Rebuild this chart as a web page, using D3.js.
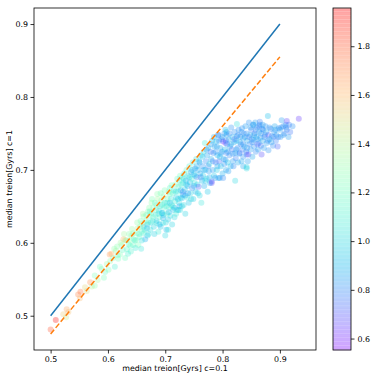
<!DOCTYPE html>
<html>
<head>
<meta charset="utf-8">
<script src="https://cdn.jsdelivr.net/npm/d3@7"></script>
<style>
	body { margin: 0; background: #fff; }
	svg text { font-family: "DejaVu Sans", sans-serif; font-size: 7.9px; fill: #000; }
</style>
</head>
<body>
<div id="chart"></div>
<script>
// scatter of median treion, c=0.1 against c=1, coloured by a third value

// [median treion c=0.1, median treion c=1, colour value]
const pointsLow = [
	[0.500,0.481,1.82],[0.509,0.494,1.95],[0.522,0.502,1.55],[0.527,0.498,1.45],[0.528,0.509,1.65],[0.531,0.505,1.58],
	[0.548,0.529,1.72],[0.551,0.524,1.60],[0.552,0.533,1.75],[0.560,0.539,1.52],[0.563,0.534,1.48],[0.569,0.546,1.70],
	[0.572,0.540,1.40],[0.577,0.541,1.30],[0.577,0.555,1.25],[0.582,0.549,1.35],[0.586,0.567,1.20],[0.589,0.564,1.28],
	[0.593,0.552,1.22],[0.595,0.560,1.18],[0.598,0.571,1.32]
];

const pointsMid = [
	[0.601,0.563,1.24],[0.603,0.584,1.68],[0.606,0.585,1.62],[0.604,0.575,1.30],[0.609,0.579,1.26],[0.612,0.567,1.10],
	[0.614,0.589,1.35],[0.616,0.595,1.28],[0.618,0.578,1.22],[0.621,0.584,1.25],[0.624,0.597,1.30],[0.627,0.605,1.60],
	[0.630,0.604,1.50],[0.630,0.579,1.20],[0.633,0.591,1.15],[0.636,0.598,1.18],[0.638,0.604,1.27],[0.640,0.588,1.12],
	[0.641,0.610,1.33],[0.644,0.597,1.20],[0.644,0.613,1.30],[0.647,0.603,1.08],[0.649,0.604,1.24],[0.650,0.613,1.26],
	[0.652,0.620,1.38],[0.653,0.597,1.22],[0.655,0.608,1.15],[0.656,0.622,1.30],[0.658,0.592,1.05],[0.659,0.615,1.19],
	[0.660,0.626,1.42],
	[0.662,0.613,1.10],[0.662,0.636,1.28],[0.662,0.622,1.00],[0.665,0.605,0.88],[0.666,0.630,1.22],[0.668,0.620,0.92],
	[0.669,0.625,0.95],[0.670,0.628,1.15],[0.670,0.643,1.25],[0.671,0.612,1.05],[0.673,0.636,1.20],[0.673,0.643,1.12],
	[0.674,0.618,1.02],[0.676,0.641,1.18],[0.676,0.655,1.30],[0.678,0.630,1.08],[0.679,0.648,1.22],[0.680,0.622,0.98],
	[0.682,0.655,1.15],[0.683,0.638,1.10],[0.685,0.627,1.05],[0.685,0.652,1.20],[0.685,0.630,0.95],[0.687,0.660,1.35],
	[0.688,0.615,1.08],[0.689,0.644,1.00],[0.690,0.635,1.14],[0.691,0.650,1.10],[0.692,0.622,0.94],[0.693,0.658,1.26],
	[0.694,0.641,0.90],[0.695,0.641,0.98],[0.696,0.627,1.02],[0.696,0.634,0.88],[0.697,0.664,1.30],[0.698,0.648,1.12],
	[0.699,0.655,1.06],[0.700,0.610,1.00],[0.702,0.650,1.08],[0.702,0.618,0.90],[0.703,0.640,1.16],[0.704,0.660,1.20],
	[0.705,0.618,1.04],[0.705,0.632,0.96],[0.706,0.670,1.28],[0.707,0.648,1.10],[0.708,0.655,0.92],[0.708,0.667,1.18],
	[0.709,0.637,1.02],[0.710,0.660,1.05],[0.711,0.679,1.22],[0.712,0.625,0.98],[0.713,0.650,1.14],[0.714,0.645,0.94],
	[0.715,0.672,1.10],[0.716,0.635,1.00],[0.717,0.657,1.08],[0.718,0.680,1.24],[0.719,0.662,0.96],[0.720,0.645,1.04],
	[0.611,0.592,1.30],[0.617,0.583,1.18],[0.622,0.600,1.34],[0.626,0.590,1.16],[0.628,0.612,1.36],[0.632,0.603,1.22],
	[0.635,0.585,1.10],[0.637,0.612,1.28],[0.639,0.596,1.14],[0.642,0.619,1.32],[0.645,0.605,1.16],[0.648,0.593,1.06],
	[0.651,0.628,1.30],[0.654,0.612,1.12],[0.657,0.630,1.24],[0.659,0.603,1.02],[0.661,0.640,1.34],[0.664,0.618,1.08],
	[0.667,0.638,1.20],[0.669,0.610,0.96],[0.672,0.648,1.28],[0.675,0.628,1.04],[0.677,0.660,1.24],[0.679,0.635,1.12],
	[0.681,0.612,0.98],[0.684,0.645,1.16],[0.686,0.667,1.30],[0.688,0.640,1.04],[0.690,0.625,0.92],[0.692,0.668,1.22],
	[0.694,0.652,1.08],[0.697,0.638,0.96],[0.699,0.672,1.24],[0.701,0.628,1.00],[0.703,0.655,1.06],[0.706,0.642,0.90],
	[0.708,0.675,1.16],[0.711,0.652,1.00],[0.713,0.668,1.12],[0.716,0.648,0.92],[0.718,0.670,1.02],[0.719,0.640,1.06]
];

const pointsUpper = [
	[0.721,0.688,1.18],[0.722,0.670,1.06],[0.723,0.677,1.12],[0.723,0.645,0.92],[0.724,0.655,1.00],[0.725,0.650,0.86],
	[0.726,0.645,1.02],[0.726,0.692,1.20],[0.727,0.662,0.98],[0.728,0.680,1.08],[0.729,0.661,0.94],[0.730,0.690,1.14],
	[0.731,0.682,1.04],[0.731,0.670,0.72],[0.731,0.666,0.85],[0.732,0.652,1.00],[0.733,0.695,1.10],[0.734,0.673,0.96],
	[0.735,0.640,0.98],[0.736,0.685,0.90],[0.737,0.700,1.16],[0.738,0.662,1.05],[0.739,0.678,0.88],[0.740,0.692,1.02],
	[0.741,0.655,0.94],[0.742,0.705,1.12],[0.743,0.683,0.92],[0.744,0.668,1.00],[0.745,0.697,0.86],[0.746,0.688,1.08],
	[0.747,0.675,0.80],[0.748,0.710,1.06],[0.749,0.660,0.96],[0.750,0.694,0.90],[0.751,0.682,1.02],[0.752,0.702,0.84],
	[0.753,0.670,0.92],[0.754,0.715,1.04],[0.755,0.690,0.78],[0.756,0.680,0.98],[0.757,0.700,0.88],[0.758,0.677,0.70],
	[0.759,0.712,0.94],[0.760,0.665,1.00],[0.761,0.695,0.86],[0.762,0.720,1.02],[0.763,0.655,1.05],[0.764,0.685,0.90],
	[0.765,0.705,0.82],[0.766,0.692,0.96],[0.767,0.725,1.00],[0.768,0.678,0.88],[0.769,0.737,1.08],[0.770,0.700,0.92],
	[0.771,0.712,0.80],[0.772,0.688,0.98],[0.773,0.720,0.86],[0.774,0.670,0.94],[0.775,0.730,0.90],[0.776,0.698,0.84],
	[0.777,0.708,1.00],[0.778,0.682,0.90],[0.779,0.725,0.76],
	[0.780,0.715,0.88],[0.781,0.682,0.66],[0.781,0.684,0.70],[0.782,0.740,0.92],[0.783,0.700,0.84],[0.784,0.723,0.80],
	[0.785,0.692,0.94],[0.786,0.732,0.86],[0.787,0.689,0.82],[0.788,0.710,0.78],[0.789,0.739,0.90],[0.790,0.732,0.84],
	[0.790,0.700,0.96],[0.791,0.720,0.88],[0.792,0.748,0.82],[0.793,0.689,0.86],[0.793,0.748,0.80],[0.794,0.712,0.74],
	[0.795,0.718,0.90],[0.795,0.689,0.84],[0.796,0.730,0.86],[0.797,0.705,0.92],[0.798,0.742,0.78],[0.799,0.725,0.84],
	[0.800,0.695,0.88],[0.801,0.739,0.64],[0.801,0.689,0.80],[0.802,0.715,0.86],[0.803,0.750,0.82],[0.804,0.728,0.90],
	[0.805,0.737,0.66],[0.805,0.714,0.82],[0.805,0.755,0.92],[0.806,0.700,0.86],[0.807,0.723,0.78],[0.807,0.748,0.84],
	[0.807,0.752,0.88],[0.808,0.735,0.80],[0.809,0.710,0.94],[0.810,0.698,0.84],[0.811,0.742,0.86],[0.812,0.720,0.80],
	[0.813,0.732,0.84],[0.814,0.705,0.90],[0.815,0.758,0.82],[0.816,0.728,0.76],[0.817,0.745,0.88],[0.818,0.712,0.84],
	[0.819,0.705,0.80],[0.820,0.738,0.86],[0.821,0.752,0.82],[0.822,0.723,0.84],[0.822,0.685,1.00],[0.823,0.716,0.78],
	[0.824,0.740,0.90],[0.825,0.763,1.02],[0.825,0.746,0.84],[0.826,0.730,0.80],[0.827,0.710,0.86],[0.828,0.755,0.82],
	[0.829,0.722,0.88],[0.830,0.723,0.72],[0.831,0.745,0.84],[0.832,0.735,0.80],[0.833,0.712,0.86],[0.834,0.757,0.82],
	[0.835,0.728,0.78],[0.836,0.743,0.84],[0.836,0.718,0.82],[0.836,0.705,0.86],[0.837,0.750,0.80],[0.838,0.732,0.88],
	[0.722,0.660,0.96],[0.725,0.685,1.10],[0.727,0.672,0.90],[0.729,0.650,0.98],[0.732,0.688,1.00],[0.735,0.665,0.88],
	[0.737,0.680,0.94],[0.740,0.668,0.84],[0.742,0.690,0.96],[0.745,0.660,1.00],[0.747,0.700,0.90],[0.750,0.678,0.86],
	[0.752,0.692,0.94],[0.755,0.705,0.88],[0.757,0.668,0.96],[0.760,0.710,0.84],[0.762,0.690,0.80],[0.765,0.718,0.92],
	[0.767,0.700,0.86],[0.770,0.685,0.94],[0.772,0.728,0.84],[0.775,0.705,0.80],[0.777,0.690,0.88],[0.780,0.735,0.84],
	[0.783,0.712,0.78],[0.785,0.745,0.88],[0.788,0.725,0.82],[0.791,0.705,0.86],[0.794,0.740,0.80],[0.797,0.722,0.84],
	[0.800,0.745,0.86],[0.803,0.708,0.82],[0.806,0.740,0.78],[0.809,0.725,0.84],[0.812,0.750,0.80],[0.815,0.735,0.86],
	[0.818,0.722,0.82],[0.821,0.742,0.76],[0.824,0.728,0.84],[0.827,0.748,0.80],[0.830,0.738,0.86],[0.833,0.752,0.82],
	[0.836,0.735,0.80],[0.839,0.745,0.84]
];

const pointsHigh = [
	[0.840,0.760,0.84],[0.841,0.725,0.80],[0.842,0.750,0.82],[0.842,0.721,0.76],[0.842,0.702,1.00],[0.842,0.704,0.98],
	[0.843,0.740,0.86],[0.844,0.712,0.84],[0.845,0.721,0.66],[0.846,0.765,0.82],[0.847,0.735,0.80],[0.848,0.748,0.86],
	[0.849,0.728,0.84],[0.850,0.755,0.78],[0.851,0.742,0.82],[0.852,0.718,0.86],[0.853,0.762,0.80],[0.854,0.741,0.84],
	[0.854,0.762,0.88],[0.855,0.732,0.82],[0.856,0.750,0.76],[0.857,0.765,0.84],[0.858,0.725,0.80],[0.859,0.745,0.86],
	[0.860,0.758,0.82],[0.861,0.735,0.70],[0.862,0.728,0.84],[0.863,0.737,0.80],[0.864,0.752,0.86],[0.865,0.762,0.82],
	[0.865,0.766,0.78],[0.866,0.744,0.84],[0.867,0.733,0.76],[0.868,0.721,0.68],[0.869,0.756,0.82],[0.870,0.740,0.86],
	[0.871,0.755,0.80],[0.872,0.730,0.84],[0.874,0.748,0.78],[0.875,0.760,0.82],[0.877,0.737,0.84],[0.879,0.774,0.92],
	[0.880,0.748,0.68],[0.880,0.727,0.82],[0.882,0.742,0.86],[0.884,0.756,0.80],[0.886,0.746,0.84],[0.888,0.733,0.80],
	[0.890,0.752,0.82],[0.891,0.760,0.86],[0.893,0.740,0.78],[0.894,0.748,0.84],[0.896,0.732,0.72],[0.898,0.757,0.80],
	[0.900,0.755,0.84],[0.901,0.745,0.82],[0.903,0.768,0.84],[0.906,0.760,0.80],[0.908,0.750,0.78],[0.910,0.762,0.82],
	[0.912,0.767,0.66],[0.912,0.755,0.80],[0.915,0.745,0.84],[0.918,0.752,0.76],[0.922,0.760,0.82],[0.933,0.770,0.64],
	[0.843,0.730,0.82],[0.846,0.745,0.78],[0.849,0.758,0.84],[0.852,0.738,0.80],[0.855,0.748,0.86],[0.858,0.755,0.80],
	[0.861,0.742,0.84],[0.864,0.760,0.78],[0.867,0.750,0.82],[0.870,0.762,0.84],[0.873,0.745,0.80],[0.876,0.752,0.86],
	[0.879,0.740,0.80],[0.882,0.758,0.82],[0.885,0.738,0.84],[0.889,0.745,0.78],[0.892,0.755,0.84],[0.897,0.745,0.80],
	[0.902,0.758,0.82],[0.906,0.748,0.84],[0.911,0.758,0.80],[0.916,0.762,0.78]
];

// reference lines: one-to-one and the fitted slope
const oneToOne = [[0.5, 0.5], [0.9, 0.9]];
const fitLine = [[0.5, 0.475], [0.9, 0.855]];

const xTicks = [0.5, 0.6, 0.7, 0.8, 0.9];
const yTicks = [0.5, 0.6, 0.7, 0.8, 0.9];
const cTicks = [0.6, 0.8, 1.0, 1.2, 1.4, 1.6, 1.8];

const width = 374, height = 380;
const plot = {left: 34, right: 316, top: 8, bottom: 350};
const bar = {left: 333, right: 351};

// matplotlib "rainbow"
function rainbow(t) {
	t = Math.max(0, Math.min(1, t));
	let r = Math.min(1, Math.abs(2 * t - 0.5));
	let g = Math.sin(Math.PI * t);
	let b = Math.cos(Math.PI * t / 2);
	return d3.rgb(r * 255, g * 255, b * 255).formatHex();
}

function drawScatter() {
	let svg = d3.select("#chart")
		.append("svg")
		.attr("width", width)
		.attr("height", height)
		.attr("viewBox", [0, 0, width, height]);

	let x = d3.scaleLinear()
		.domain([0.471, 0.963])
		.range([plot.left, plot.right]);

	let y = d3.scaleLinear()
		.domain([0.453, 0.922])
		.range([plot.bottom, plot.top]);

	let c = d3.scaleLinear()
		.domain([0.553, 1.957])
		.range([0, 1]);

	let cy = d3.scaleLinear()
		.domain([0.553, 1.957])
		.range([plot.bottom, plot.top]);

	let points = pointsLow.concat(pointsMid, pointsUpper, pointsHigh);

	svg.append("g")
		.selectAll("circle")
		.data(points)
		.join("circle")
		.attr("cx", d => x(d[0]))
		.attr("cy", d => y(d[1]))
		.attr("r", 3)
		.attr("fill", d => rainbow(c(d[2])))
		.attr("fill-opacity", 0.3);

	let line = d3.line()
		.x(d => x(d[0]))
		.y(d => y(d[1]));

	svg.append("path")
		.datum(oneToOne)
		.attr("d", line)
		.attr("fill", "none")
		.attr("stroke", "#1f77b4")
		.attr("stroke-width", 1.5);

	svg.append("path")
		.datum(fitLine)
		.attr("d", line)
		.attr("fill", "none")
		.attr("stroke", "#ff7f0e")
		.attr("stroke-width", 1.5)
		.attr("stroke-dasharray", "5.5,2.4");

	let xAxis = g => g
		.attr("transform", `translate(0,${plot.bottom})`)
		.call(d3.axisBottom(x).tickValues(xTicks).tickFormat(d3.format(".1f")).tickSizeOuter(0).tickSize(3.5).tickPadding(3))
		.call(g => g.select(".domain").remove())
		.call(g => g.selectAll(".tick line").attr("stroke-width", 0.8))
		.call(g => g.selectAll("text").attr("font-size", null).attr("font-family", null));

	let yAxis = g => g
		.attr("transform", `translate(${plot.left},0)`)
		.call(d3.axisLeft(y).tickValues(yTicks).tickFormat(d3.format(".1f")).tickSizeOuter(0).tickSize(3.5).tickPadding(2.5))
		.call(g => g.select(".domain").remove())
		.call(g => g.selectAll(".tick line").attr("stroke-width", 0.8))
		.call(g => g.selectAll("text").attr("font-size", null).attr("font-family", null));

	svg.append("g").call(xAxis);
	svg.append("g").call(yAxis);

	svg.append("rect")
		.attr("x", plot.left)
		.attr("y", plot.top)
		.attr("width", plot.right - plot.left)
		.attr("height", plot.bottom - plot.top)
		.attr("fill", "none")
		.attr("stroke", "#000")
		.attr("stroke-width", 0.8);

	svg.append("text")
		.attr("x", (plot.left + plot.right) / 2)
		.attr("y", 371)
		.attr("text-anchor", "middle")
		.text("median treion[Gyrs] c=0.1");

	svg.append("text")
		.attr("transform", `translate(12,${(plot.top + plot.bottom) / 2}) rotate(-90)`)
		.attr("text-anchor", "middle")
		.text("median treion[Gyrs] c=1");

	// colour bar, drawn as thin translucent bands like matplotlib does with alpha
	let steps = d3.range(0, 256);
	let band = (plot.bottom - plot.top) / steps.length;
	svg.append("g")
		.selectAll("rect")
		.data(steps)
		.join("rect")
		.attr("x", bar.left)
		.attr("width", bar.right - bar.left)
		.attr("y", d => plot.bottom - (d + 1) * band)
		.attr("height", band + 0.3)
		.attr("fill", d => rainbow(d / 255))
		.attr("fill-opacity", 0.3);

	svg.append("rect")
		.attr("x", bar.left)
		.attr("y", plot.top)
		.attr("width", bar.right - bar.left)
		.attr("height", plot.bottom - plot.top)
		.attr("fill", "none")
		.attr("stroke", "#000")
		.attr("stroke-width", 0.8);

	svg.append("g")
		.attr("transform", `translate(${bar.right},0)`)
		.call(d3.axisRight(cy).tickValues(cTicks).tickFormat(d3.format(".1f")).tickSizeOuter(0).tickSize(3.5).tickPadding(3))
		.call(g => g.select(".domain").remove())
		.call(g => g.selectAll(".tick line").attr("stroke-width", 0.8))
		.call(g => g.selectAll("text").attr("font-size", null).attr("font-family", null));
}

drawScatter();
</script>
</body>
</html>
